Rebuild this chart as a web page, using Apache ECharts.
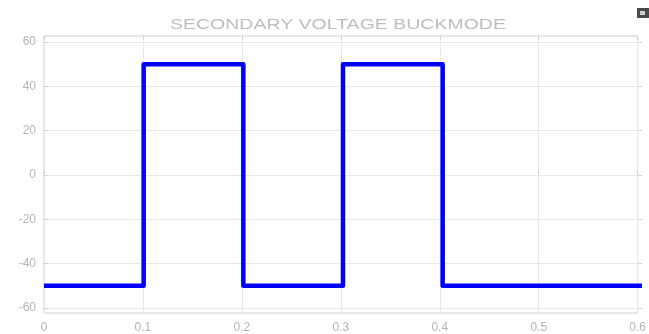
<!DOCTYPE html>
<html>
<head>
<meta charset="utf-8">
<script src="https://cdn.jsdelivr.net/npm/echarts@6/dist/echarts.min.js"></script>
<style>
  html, body { margin: 0; padding: 0; background: #ffffff; }
  #chart { width: 649px; height: 334px; }
</style>
</head>
<body>
<div id="chart"></div>
<script>
// Secondary winding voltage in buck mode: square wave between -50 V and +50 V
var chartTitle = 'SECONDARY VOLTAGE BUCKMODE';
var timeValues    = [0,   0.1, 0.1, 0.2, 0.2, 0.3, 0.3, 0.4, 0.4, 0.6];
var voltageValues = [-50, -50, 50,  50,  -50, -50, 50,  50,  -50, -50];
var xTickLabels = ['0', '0.1', '0.2', '0.3', '0.4', '0.5', '0.6'];
var yTickLabels = ['-60', '-40', '-20', '0', '20', '40', '60'];

var points = timeValues.map(function (t, i) { return [t, voltageValues[i]]; });

var labelColor = '#b4b4b4';
var gridColor = '#e8e8e8';
var frameColor = '#cfcfcf';

var chart = echarts.init(document.getElementById('chart'), null, { renderer: 'canvas' });
chart.setOption({
  backgroundColor: '#ffffff',
  animation: false,
  graphic: [
    {
      type: 'text',
      left: 170, top: 17,
      scaleX: 1.3,
      style: {
        text: chartTitle,
        fill: '#bdbdbd',
        font: '15px "Liberation Sans", Arial, sans-serif'
      }
    },
    {
      type: 'rect',
      right: 0, top: 8,
      shape: { width: 12, height: 10 },
      style: { fill: '#4a4a4a' }
    },
    {
      type: 'rect',
      right: 4, top: 11,
      shape: { width: 5, height: 4 },
      style: { fill: '#d0d0d0' }
    }
  ],
  grid: [
    { left: 44, right: 7, top: 42, bottom: 26, show: false },
    { left: 44, right: 7, top: 36, bottom: 21, show: true, borderColor: frameColor, borderWidth: 1, backgroundColor: 'transparent' }
  ],
  xAxis: [
    {
      gridIndex: 0, type: 'value', min: 0, max: 0.6, interval: 0.1,
      show: false
    },
    {
      gridIndex: 1, type: 'value', min: 0, max: 0.6, interval: 0.1,
      position: 'bottom',
      axisLine: { show: false },
      axisTick: { show: true, inside: true, length: 4, lineStyle: { color: frameColor } },
      splitLine: { show: true, lineStyle: { color: gridColor, width: 1 } },
      axisLabel: {
        color: labelColor, fontSize: 12, margin: 9,
        fontFamily: '"Liberation Sans", Arial, sans-serif',
        formatter: function (v) { return xTickLabels[Math.round(v * 10)]; }
      }
    },
    {
      gridIndex: 1, type: 'value', min: 0, max: 0.6, interval: 0.1,
      position: 'top',
      axisLine: { show: false },
      axisTick: { show: true, inside: true, length: 4, lineStyle: { color: frameColor } },
      splitLine: { show: false },
      axisLabel: { show: false }
    }
  ],
  yAxis: [
    {
      gridIndex: 0, type: 'value', min: -60, max: 60, interval: 20,
      position: 'left',
      axisLine: { show: false },
      axisTick: { show: true, inside: true, length: 4, lineStyle: { color: frameColor } },
      splitLine: { show: true, lineStyle: { color: gridColor, width: 1 } },
      axisLabel: {
        color: labelColor, fontSize: 12, margin: 8,
        fontFamily: '"Liberation Sans", Arial, sans-serif',
        formatter: function (v) { return yTickLabels[Math.round((v + 60) / 20)]; }
      }
    },
    {
      gridIndex: 0, type: 'value', min: -60, max: 60, interval: 20,
      position: 'right',
      axisLine: { show: false },
      axisTick: { show: true, inside: true, length: 4, lineStyle: { color: frameColor } },
      splitLine: { show: false },
      axisLabel: { show: false }
    },
    {
      gridIndex: 1, type: 'value', min: -62.5, max: 62.5,
      show: false
    }
  ],
  series: [
    {
      type: 'line',
      xAxisIndex: 0,
      yAxisIndex: 0,
      data: points,
      showSymbol: false,
      symbol: 'none',
      clip: false,
      lineStyle: { color: '#0000ff', width: 4.5, join: 'round', cap: 'butt' }
    }
  ]
});
</script>
</body>
</html>
